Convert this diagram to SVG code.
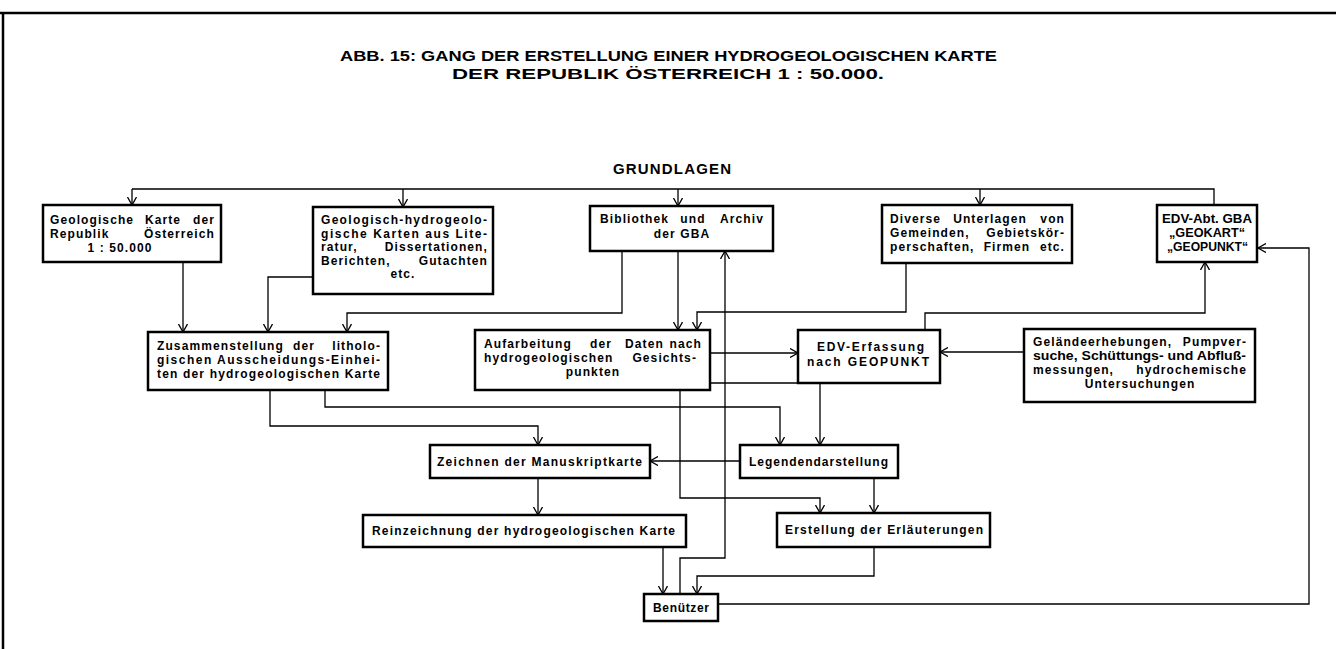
<svg xmlns="http://www.w3.org/2000/svg" width="1336" height="649" viewBox="0 0 1336 649">
<style>
.bg{fill:#fff}
.box{fill:#fff;stroke:#000;stroke-width:2.5}
.t{font-family:"Liberation Sans",Arial,sans-serif;font-weight:bold;font-size:12px;fill:#000}
.w{letter-spacing:1.1px}
.c{text-anchor:middle}
.e{text-anchor:end}
.title{font-family:"Liberation Sans",Arial,sans-serif;font-weight:bold;font-size:14px;fill:#000}
.con{fill:none;stroke:#000;stroke-width:1.3}
.frame{fill:none;stroke:#000;stroke-width:2.5}
</style>
<defs>
<marker id="arr" viewBox="0 0 8 10" refX="8" refY="5" markerWidth="8" markerHeight="10" markerUnits="userSpaceOnUse" orient="auto">
<path d="M0,0.5 L8,5 L0,9.5" fill="none" stroke="#000" stroke-width="1.3"/>
</marker>
</defs>
<rect class="bg" x="0" y="0" width="1336" height="649"/>
<g id="frame">
<path class="frame" d="M0,13 H1336 M3,13 V649"/>
</g>
<g id="title">
<text class="title" x="340" y="61" textLength="657" lengthAdjust="spacingAndGlyphs">ABB. 15: GANG DER ERSTELLUNG EINER HYDROGEOLOGISCHEN KARTE</text>
<text class="title" x="452" y="79" textLength="432" lengthAdjust="spacingAndGlyphs">DER REPUBLIK ÖSTERREICH 1 : 50.000.</text>
<text class="title" x="613" y="174" style="font-size:15px" textLength="118" lengthAdjust="spacing">GRUNDLAGEN</text>
</g>
<g id="connectors">
<path class="con" d="M132,189 H1214 V205"/>
<path class="con" d="M132,189 V205" marker-end="url(#arr)"/>
<path class="con" d="M403,189 V207" marker-end="url(#arr)"/>
<path class="con" d="M678,189 V206" marker-end="url(#arr)"/>
<path class="con" d="M980,189 V205" marker-end="url(#arr)"/>
<path class="con" d="M183,262 V332" marker-end="url(#arr)"/>
<path class="con" d="M313,277 H268 V332" marker-end="url(#arr)"/>
<path class="con" d="M622,251 V313 H347 V332" marker-end="url(#arr)"/>
<path class="con" d="M678,251 V330" marker-end="url(#arr)"/>
<path class="con" d="M906,263 V312 H697 V330" marker-end="url(#arr)"/>
<path class="con" d="M925,330 V313 H1205 V262" marker-end="url(#arr)"/>
<path class="con" d="M710,353 H798" marker-end="url(#arr)"/>
<path class="con" d="M1024,352 H940" marker-end="url(#arr)"/>
<path class="con" d="M710,383 H820 V445" marker-end="url(#arr)"/>
<path class="con" d="M325,390 V407 H780 V445" marker-end="url(#arr)"/>
<path class="con" d="M270,390 V426 H538 V445" marker-end="url(#arr)"/>
<path class="con" d="M740,461 H650" marker-end="url(#arr)"/>
<path class="con" d="M538,478 V515" marker-end="url(#arr)"/>
<path class="con" d="M874,478 V513" marker-end="url(#arr)"/>
<path class="con" d="M680,390 V498 H820 V513" marker-end="url(#arr)"/>
<path class="con" d="M663,547 V594" marker-end="url(#arr)"/>
<path class="con" d="M874,547 V576 H697 V594" marker-end="url(#arr)"/>
<path class="con" d="M680,594 V558 H725 V251" marker-end="url(#arr)"/>
<path class="con" d="M718,604 H1309 V248 H1258" marker-end="url(#arr)"/>
</g>
<g id="n1">
<rect class="box" x="43" y="205" width="178" height="57"/>
<text class="t w" x="50" y="224">Geologische</text><text class="t w c" x="163" y="224">Karte</text><text class="t w e" x="215" y="224">der</text>
<text class="t w" x="50" y="238">Republik</text><text class="t w e" x="215" y="238">Österreich</text>
<text class="t w c" x="120" y="252">1 : 50.000</text>
</g>
<g id="n2">
<rect class="box" x="313" y="207" width="180" height="87"/>
<text class="t" x="321" y="224" textLength="166" lengthAdjust="spacing">Geologisch-hydrogeolo-</text>
<text class="t" x="321" y="237.5" textLength="166" lengthAdjust="spacing">gische Karten aus Lite-</text>
<text class="t w" x="321" y="251">ratur,</text><text class="t w e" x="488" y="251">Dissertationen,</text>
<text class="t w" x="321" y="264.5">Berichten,</text><text class="t w e" x="488" y="264.5">Gutachten</text>
<text class="t w c" x="403" y="278">etc.</text>
</g>
<g id="n3">
<rect class="box" x="590" y="206" width="183" height="45"/>
<text class="t w" x="600" y="223">Bibliothek</text><text class="t w c" x="693" y="223">und</text><text class="t w e" x="764" y="223">Archiv</text>
<text class="t w c" x="682" y="238">der GBA</text>
</g>
<g id="n4">
<rect class="box" x="882" y="205" width="190" height="58"/>
<text class="t w" x="890" y="223">Diverse</text><text class="t w c" x="990" y="223">Unterlagen</text><text class="t w e" x="1065" y="223">von</text>
<text class="t w" x="890" y="237">Gemeinden,</text><text class="t w e" x="1065" y="237">Gebietskör-</text>
<text class="t w" x="890" y="251">perschaften,</text><text class="t w c" x="1007" y="251">Firmen</text><text class="t w e" x="1065" y="251">etc.</text>
</g>
<g id="n5">
<rect class="box" x="1157" y="205" width="100" height="57"/>
<text class="t" x="1162" y="223" textLength="90" lengthAdjust="spacingAndGlyphs">EDV-Abt. GBA</text>
<text class="t" x="1169" y="237" textLength="76" lengthAdjust="spacingAndGlyphs">„GEOKART“</text>
<text class="t" x="1167" y="251" textLength="81" lengthAdjust="spacingAndGlyphs">„GEOPUNKT“</text>
</g>
<g id="n6">
<rect class="box" x="148" y="332" width="240" height="58"/>
<text class="t w" x="157" y="350">Zusammenstellung</text><text class="t w c" x="304" y="350">der</text><text class="t w e" x="381" y="350">litholo-</text>
<text class="t" x="157" y="364" textLength="223" lengthAdjust="spacing">gischen Ausscheidungs-Einhei-</text>
<text class="t" x="157" y="378" textLength="223" lengthAdjust="spacing">ten der hydrogeologischen Karte</text>
</g>
<g id="n7">
<rect class="box" x="475" y="330" width="235" height="60"/>
<text class="t w" x="484" y="348">Aufarbeitung</text><text class="t w" x="590" y="348">der</text><text class="t w" x="625" y="348">Daten</text><text class="t w e" x="702" y="348">nach</text>
<text class="t w" x="484" y="362">hydrogeologischen</text><text class="t w e" x="697" y="362">Gesichts-</text>
<text class="t w c" x="593" y="376">punkten</text>
</g>
<g id="n8">
<rect class="box" x="798" y="330" width="142" height="53"/>
<text class="t" x="817" y="351" textLength="107" lengthAdjust="spacing">EDV-Erfassung</text>
<text class="t" x="807" y="366" textLength="122" lengthAdjust="spacing">nach GEOPUNKT</text>
</g>
<g id="n9">
<rect class="box" x="1024" y="329" width="231" height="73"/>
<text class="t w" x="1033" y="346">Geländeerhebungen,</text><text class="t w e" x="1247" y="346">Pumpver-</text>
<text class="t" x="1033" y="360" textLength="213" lengthAdjust="spacingAndGlyphs">suche, Schüttungs- und Abfluß-</text>
<text class="t w" x="1033" y="374">messungen,</text><text class="t w e" x="1247" y="374">hydrochemische</text>
<text class="t w c" x="1140" y="388">Untersuchungen</text>
</g>
<g id="n10">
<rect class="box" x="430" y="445" width="220" height="33"/>
<text class="t" x="437" y="466" textLength="205" lengthAdjust="spacing">Zeichnen der Manuskriptkarte</text>
</g>
<g id="n11">
<rect class="box" x="740" y="445" width="158" height="33"/>
<text class="t" x="749" y="466" textLength="139" lengthAdjust="spacing">Legendendarstellung</text>
</g>
<g id="n12">
<rect class="box" x="363" y="515" width="323" height="32"/>
<text class="t" x="372" y="535" textLength="303" lengthAdjust="spacing">Reinzeichnung der hydrogeologischen Karte</text>
</g>
<g id="n13">
<rect class="box" x="777" y="513" width="213" height="34"/>
<text class="t" x="785" y="534" textLength="198" lengthAdjust="spacing">Erstellung der Erläuterungen</text>
</g>
<g id="n14">
<rect class="box" x="644" y="594" width="74" height="27"/>
<text class="t" x="653" y="612" textLength="56" lengthAdjust="spacing">Benützer</text>
</g>
</svg>
